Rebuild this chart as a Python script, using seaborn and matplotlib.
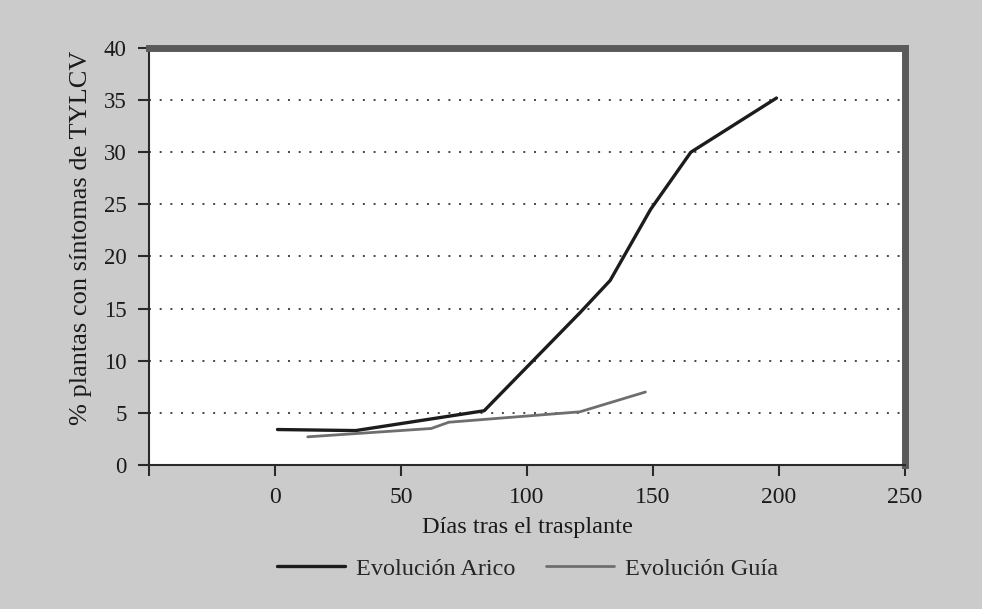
import pandas as pd
import matplotlib.pyplot as plt
import seaborn as sns

sns.set_style("white")
plt.rcParams['font.family'] = ['Liberation Serif', 'DejaVu Serif']

# values
dias_arico = [1, 32, 83, 121, 133, 149, 165, 199]
pct_arico = [3.4, 3.3, 5.2, 14.6, 17.7, 24.5, 30.0, 35.2]

dias_guia = [13, 62, 69, 121, 147]
pct_guia = [2.7, 3.5, 4.1, 5.1, 7.0]

series_names = ['Evolución Arico', 'Evolución Guía']
series_colors = ['#1c1c1c', '#6e6e6e']

x_ticks = [-50, 0, 50, 100, 150, 200, 250]
x_labels = ['', '0', '50', '100', '150', '200', '250']

df = pd.concat([
    pd.DataFrame({'dias': dias_arico, 'pct': pct_arico, 'serie': series_names[0]}),
    pd.DataFrame({'dias': dias_guia, 'pct': pct_guia, 'serie': series_names[1]}),
])

bg = '#cbcbcb'
fig = plt.figure(figsize=(9.82, 6.09), dpi=100, facecolor=bg)
ax = fig.add_axes([0.1517, 0.2365, 0.7699, 0.6847])
ax.set_facecolor('white')

sns.lineplot(data=df, x='dias', y='pct', hue='serie', palette=dict(zip(series_names, series_colors)),
             ax=ax, legend=False, sort=False, estimator=None)
for line, lw in zip(ax.lines, [2.4, 2.0]):
    line.set_linewidth(lw)

ax.set_xlim(-50, 250)
ax.set_ylim(0, 40)
ax.set_xticks(x_ticks)
ax.set_xticklabels(x_labels)
ax.set_yticks(range(0, 41, 5))

# dotted horizontal grid
for yv in range(5, 40, 5):
    ax.axhline(yv, color='#444444', lw=1.4, ls=(0, (1, 4.5)), zorder=0)

# frame: thin left/bottom axes, heavy grey shadow on top/right
ax.spines['left'].set_color('#2a2a2a')
ax.spines['left'].set_linewidth(1.5)
ax.spines['bottom'].set_color('#2a2a2a')
ax.spines['bottom'].set_linewidth(1.5)
for s in ['top', 'right']:
    ax.spines[s].set_color('#5a5a5a')
    ax.spines[s].set_linewidth(5)

ax.tick_params(axis='both', direction='out', length=8, width=1.5, color='#2a2a2a',
               labelcolor='#1a1a1a', bottom=True, left=True, top=False, right=False)
ax.tick_params(axis='x', labelsize=17, pad=8)
ax.tick_params(axis='y', labelsize=16.5, pad=8)

ax.set_xlabel('Días tras el trasplante', fontsize=17.5, color='#1a1a1a', labelpad=6)
ax.set_ylabel('% plantas con síntomas de TYLCV', fontsize=19, color='#1a1a1a')
ax.yaxis.set_label_coords(-0.0754, 0.545)

handles = [plt.Line2D([], [], color=c, lw=lw) for c, lw in zip(series_colors, [2.4, 2.0])]
fig.legend(handles, series_names, loc='center', bbox_to_anchor=(0.537, 0.066), ncol=2,
           frameon=False, fontsize=17.5, handlelength=2.8, columnspacing=1.25, handletextpad=0.45)

fig.savefig('out.png', dpi=100, facecolor=bg)
